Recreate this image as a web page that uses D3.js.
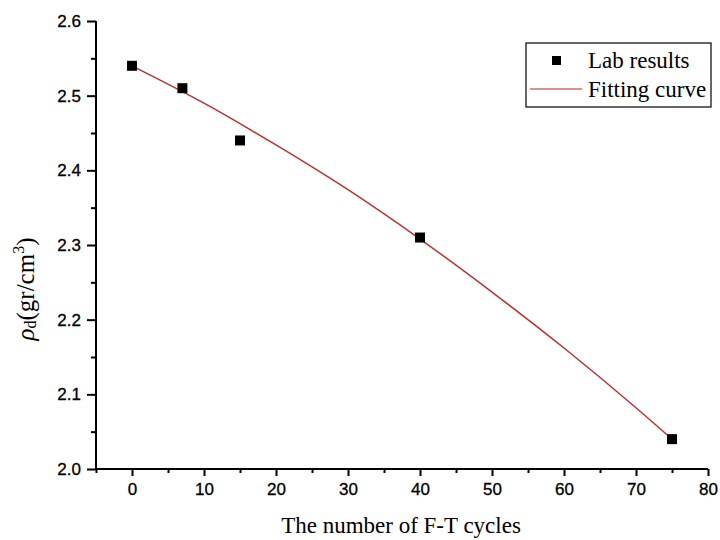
<!DOCTYPE html>
<html>
<head>
<meta charset="utf-8">
<script src="https://cdn.jsdelivr.net/npm/d3@7"></script>
<style>
  body { margin: 0; background: #fff; }
  .tick text { font-family: "Liberation Sans", Arial, sans-serif; font-size: 17px; fill: #000; }
</style>
</head>
<body>
<div id="chart"></div>
<script>
// Data
const CYCLES = [0, 7, 15, 40, 75];
const DENSITY = [2.54, 2.51, 2.44, 2.31, 2.04];

// fitting curve
const FIT_X = [0, 10, 20, 30, 40, 50, 60, 70, 75];
const FIT_Y = [2.540, 2.490, 2.434, 2.374, 2.308, 2.237, 2.162, 2.082, 2.040];

const X_TICKS = [0, 10, 20, 30, 40, 50, 60, 70, 80];
const Y_TICKS = [2.0, 2.1, 2.2, 2.3, 2.4, 2.5, 2.6];
const LEGEND_LABELS = ["Lab results", "Fitting curve"];

// Constants
const FRAME_WIDTH = 720;
const FRAME_HEIGHT = 540;
const MARGINS = {left: 96, right: 12, top: 21, bottom: 71};
const VIS_WIDTH = FRAME_WIDTH - MARGINS.left - MARGINS.right;
const VIS_HEIGHT = FRAME_HEIGHT - MARGINS.top - MARGINS.bottom;
const CURVE_COLOR = "#b83232";
const SERIF = "'Liberation Serif', 'Times New Roman', serif";

const FRAME = d3.select("#chart")
                .append("svg")
                  .attr("width", FRAME_WIDTH)
                  .attr("height", FRAME_HEIGHT);

const X_SCALE = d3.scaleLinear()
                  .domain([-5, 80])
                  .range([0, VIS_WIDTH]);

const Y_SCALE = d3.scaleLinear()
                  .domain([2.0, 2.6])
                  .range([VIS_HEIGHT, 0]);

const G = FRAME.append("g")
               .attr("transform", "translate(" + MARGINS.left + "," + MARGINS.top + ")");

// minor ticks
G.append("g")
  .attr("transform", "translate(0," + VIS_HEIGHT + ")")
  .call(d3.axisBottom(X_SCALE).tickValues(d3.range(-5, 80, 10)).tickSize(4).tickFormat(""))
  .call(g => g.select(".domain").remove());

G.append("g")
  .call(d3.axisLeft(Y_SCALE).tickValues([2.05, 2.15, 2.25, 2.35, 2.45, 2.55]).tickSize(5).tickFormat(""))
  .call(g => g.select(".domain").remove());

// x axis
const xAxis = G.append("g")
  .attr("transform", "translate(0," + VIS_HEIGHT + ")")
  .call(d3.axisBottom(X_SCALE).tickValues(X_TICKS).tickSize(7).tickPadding(7).tickSizeOuter(0));
xAxis.select(".domain").attr("d", "M0,0H" + VIS_WIDTH);

// y axis
const yAxis = G.append("g")
  .call(d3.axisLeft(Y_SCALE).tickValues(Y_TICKS).tickSize(9).tickPadding(6)
        .tickFormat(d3.format(".1f")).tickSizeOuter(0));
yAxis.select(".domain").attr("d", "M0," + VIS_HEIGHT + "V0");

G.selectAll(".domain, .tick line")
  .attr("stroke", "#000")
  .attr("stroke-width", 2);
G.selectAll(".tick text")
  .attr("stroke", "#000")
  .attr("stroke-width", 0.3);

// fitting curve
const fitData = FIT_X.map((x, i) => ({x: x, y: FIT_Y[i]}));
G.append("path")
  .datum(fitData)
  .attr("fill", "none")
  .attr("stroke", CURVE_COLOR)
  .attr("stroke-width", 1.5)
  .attr("d", d3.line()
              .x(d => X_SCALE(d.x))
              .y(d => Y_SCALE(d.y))
              .curve(d3.curveMonotoneX));

// lab points
const SQ = 10;
G.selectAll(".point")
  .data(CYCLES.map((c, i) => ({x: c, y: DENSITY[i]})))
  .enter()
  .append("rect")
    .attr("class", "point")
    .attr("x", d => X_SCALE(d.x) - SQ / 2)
    .attr("y", d => Y_SCALE(d.y) - SQ / 2)
    .attr("width", SQ)
    .attr("height", SQ)
    .attr("fill", "#000");

// axis titles
FRAME.append("text")
  .attr("x", 401)
  .attr("y", 533)
  .attr("text-anchor", "middle")
  .attr("font-family", SERIF)
  .attr("font-size", 23)
  .text("The number of F-T cycles");

const yTitle = FRAME.append("text")
  .attr("transform", "translate(34,289) rotate(-90)")
  .attr("text-anchor", "middle")
  .attr("font-family", SERIF)
  .attr("font-size", 25);
yTitle.append("tspan").attr("font-style", "italic").text("ρ");
yTitle.append("tspan").attr("font-size", 16).attr("dy", 2).text("d");
yTitle.append("tspan").attr("dy", -2).text("(gr/cm");
yTitle.append("tspan").attr("font-size", 16).attr("dy", -10).text("3");
yTitle.append("tspan").attr("dy", 10).text(")");

// legend
const LEG = FRAME.append("g").attr("transform", "translate(526,43)");
LEG.append("rect")
  .attr("width", 185)
  .attr("height", 64)
  .attr("fill", "#fff")
  .attr("stroke", "#000")
  .attr("stroke-width", 1.2);
LEG.append("rect")
  .attr("x", 26).attr("y", 13)
  .attr("width", 9).attr("height", 9)
  .attr("fill", "#000");
LEG.append("line")
  .attr("x1", 4).attr("x2", 56)
  .attr("y1", 46).attr("y2", 46)
  .attr("stroke", CURVE_COLOR)
  .attr("stroke-width", 1.5)
  .attr("opacity", 0.7);
LEG.selectAll(".leglabel")
  .data(LEGEND_LABELS)
  .enter()
  .append("text")
    .attr("x", 62)
    .attr("y", (d, i) => 25 + i * 29)
    .attr("font-family", SERIF)
    .attr("font-size", 23)
    .text(d => d);
</script>
</body>
</html>
